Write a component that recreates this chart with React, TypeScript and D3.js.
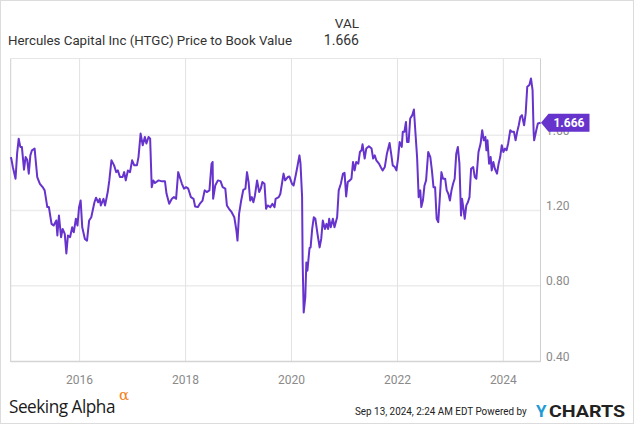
import React from "react";
import * as d3 from "d3";

// Decimal-year timestamps and Price-to-Book values
const times: number[] = [
  2014.70, 2014.71, 2014.74, 2014.79, 2014.82, 2014.85, 2014.88, 2014.91, 2014.95, 2014.98,
  2015.01, 2015.04, 2015.07, 2015.10, 2015.15, 2015.20, 2015.25, 2015.31, 2015.34, 2015.39,
  2015.42, 2015.47, 2015.51, 2015.56, 2015.58, 2015.61, 2015.65, 2015.68, 2015.72, 2015.75,
  2015.78, 2015.82, 2015.86, 2015.89, 2015.93, 2015.96, 2015.99, 2016.02, 2016.05, 2016.10,
  2016.14, 2016.18, 2016.22, 2016.28, 2016.31, 2016.35, 2016.38, 2016.40, 2016.45, 2016.48,
  2016.53, 2016.56, 2016.60, 2016.65, 2016.69, 2016.72, 2016.76, 2016.81, 2016.84, 2016.87,
  2016.91, 2016.95, 2016.99, 2017.03, 2017.08, 2017.11, 2017.15, 2017.19, 2017.23, 2017.26,
  2017.30, 2017.33, 2017.36, 2017.39, 2017.42, 2017.49, 2017.55, 2017.61, 2017.64, 2017.69,
  2017.74, 2017.78, 2017.82, 2017.86, 2017.90, 2017.93, 2017.97, 2018.01, 2018.05, 2018.10,
  2018.15, 2018.18, 2018.23, 2018.27, 2018.32, 2018.36, 2018.40, 2018.45, 2018.49, 2018.51,
  2018.52, 2018.56, 2018.61, 2018.66, 2018.70, 2018.75, 2018.78, 2018.82, 2018.87, 2018.92,
  2018.96, 2018.98, 2019.01, 2019.05, 2019.09, 2019.13, 2019.16, 2019.19, 2019.22, 2019.25,
  2019.28, 2019.31, 2019.35, 2019.39, 2019.42, 2019.45, 2019.49, 2019.52, 2019.55, 2019.60,
  2019.64, 2019.68, 2019.70, 2019.76, 2019.79, 2019.85, 2019.88, 2019.93, 2019.96, 2020.01,
  2020.04, 2020.08, 2020.11, 2020.15, 2020.17, 2020.20, 2020.21, 2020.23, 2020.26, 2020.28,
  2020.30, 2020.34, 2020.36, 2020.39, 2020.42, 2020.45, 2020.49, 2020.53, 2020.56, 2020.59,
  2020.63, 2020.66, 2020.69, 2020.71, 2020.74, 2020.78, 2020.81, 2020.86, 2020.89, 2020.93,
  2020.97, 2021.00, 2021.03, 2021.06, 2021.10, 2021.13, 2021.16, 2021.19, 2021.22, 2021.26,
  2021.29, 2021.32, 2021.34, 2021.38, 2021.41, 2021.46, 2021.51, 2021.54, 2021.57, 2021.60,
  2021.65, 2021.69, 2021.72, 2021.76, 2021.80, 2021.85, 2021.88, 2021.91, 2021.95, 2021.98,
  2022.01, 2022.04, 2022.08, 2022.10, 2022.13, 2022.16, 2022.18, 2022.21, 2022.24, 2022.28,
  2022.31, 2022.34, 2022.37, 2022.40, 2022.43, 2022.45, 2022.48, 2022.51, 2022.54, 2022.58,
  2022.62, 2022.65, 2022.68, 2022.71, 2022.74, 2022.77, 2022.80, 2022.83, 2022.86, 2022.90,
  2022.93, 2022.96, 2022.99, 2023.02, 2023.05, 2023.08, 2023.11, 2023.14, 2023.17, 2023.20,
  2023.22, 2023.25, 2023.27, 2023.30, 2023.33, 2023.36, 2023.39, 2023.43, 2023.46, 2023.49,
  2023.53, 2023.57, 2023.60, 2023.63, 2023.66, 2023.68, 2023.70, 2023.73, 2023.76, 2023.78,
  2023.81, 2023.84, 2023.88, 2023.91, 2023.94, 2023.97, 2024.00, 2024.03, 2024.06, 2024.09,
  2024.13, 2024.16, 2024.20, 2024.23, 2024.26, 2024.29, 2024.32, 2024.35, 2024.39, 2024.42,
  2024.45, 2024.49, 2024.52, 2024.55, 2024.57, 2024.58, 2024.62, 2024.65, 2024.70,
];

const values: number[] = [
  1.484, 1.476, 1.430, 1.369, 1.504, 1.582, 1.538, 1.538, 1.417, 1.484,
  1.470, 1.396, 1.493, 1.520, 1.529, 1.378, 1.342, 1.321, 1.307, 1.218,
  1.218, 1.129, 1.120, 1.147, 1.067, 1.173, 1.058, 1.102, 1.076, 0.972,
  1.067, 1.058, 1.111, 1.084, 1.156, 1.120, 1.218, 1.253, 1.111, 1.049,
  1.040, 1.147, 1.164, 1.244, 1.268, 1.244, 1.262, 1.227, 1.262, 1.227,
  1.298, 1.360, 1.467, 1.440, 1.404, 1.413, 1.378, 1.378, 1.404, 1.360,
  1.413, 1.404, 1.467, 1.440, 1.440, 1.484, 1.609, 1.547, 1.591, 1.556,
  1.591, 1.582, 1.324, 1.360, 1.346, 1.360, 1.355, 1.355, 1.289, 1.236,
  1.262, 1.271, 1.262, 1.404, 1.369, 1.342, 1.316, 1.324, 1.316, 1.271,
  1.262, 1.221, 1.218, 1.236, 1.253, 1.307, 1.298, 1.307, 1.449, 1.458,
  1.262, 1.333, 1.360, 1.356, 1.324, 1.316, 1.227, 1.209, 1.191, 1.164,
  1.093, 1.040, 1.182, 1.253, 1.310, 1.316, 1.404, 1.351, 1.253, 1.271,
  1.244, 1.280, 1.360, 1.298, 1.316, 1.351, 1.342, 1.209, 1.227, 1.218,
  1.236, 1.218, 1.262, 1.271, 1.289, 1.396, 1.360, 1.378, 1.381, 1.342,
  1.333, 1.387, 1.431, 1.493, 1.449, 1.271, 0.933, 0.658, 0.738, 0.924,
  0.880, 1.000, 1.004, 1.102, 1.164, 1.156, 1.076, 1.004, 1.049, 1.147,
  1.102, 1.129, 1.102, 1.156, 1.111, 1.156, 1.111, 1.164, 1.307, 1.342,
  1.396, 1.400, 1.275, 1.351, 1.360, 1.369, 1.458, 1.413, 1.458, 1.449,
  1.511, 1.520, 1.552, 1.476, 1.529, 1.541, 1.529, 1.476, 1.493, 1.467,
  1.449, 1.427, 1.413, 1.431, 1.502, 1.559, 1.502, 1.440, 1.431, 1.413,
  1.476, 1.564, 1.538, 1.618, 1.618, 1.671, 1.564, 1.564, 1.689, 1.707,
  1.737, 1.609, 1.484, 1.271, 1.307, 1.218, 1.253, 1.333, 1.360, 1.511,
  1.484, 1.413, 1.324, 1.324, 1.156, 1.138, 1.271, 1.404, 1.369, 1.369,
  1.307, 1.289, 1.253, 1.307, 1.342, 1.369, 1.502, 1.538, 1.449, 1.173,
  1.262, 1.200, 1.156, 1.227, 1.244, 1.271, 1.422, 1.431, 1.378, 1.369,
  1.511, 1.556, 1.627, 1.573, 1.591, 1.520, 1.573, 1.449, 1.484, 1.413,
  1.458, 1.422, 1.396, 1.449, 1.484, 1.547, 1.511, 1.529, 1.520, 1.556,
  1.627, 1.618, 1.618, 1.573, 1.618, 1.653, 1.698, 1.707, 1.653, 1.716,
  1.858, 1.867, 1.902, 1.840, 1.618, 1.573, 1.627, 1.662, 1.666,
];

const yTicks: number[] = [0.4, 0.8, 1.2, 1.6];
const yTickLabels: string[] = ["0.40", "0.80", "1.20", "1.60"];
const xTickYears: number[] = [2016, 2018, 2020, 2022, 2024];

const TITLE = "Hercules Capital Inc (HTGC) Price to Book Value";
const LAST_VALUE = "1.666";
const TIMESTAMP = "Sep 13, 2024, 2:24 AM EDT Powered by";

const W = 635;
const H = 424;
const LINE_COLOR = "#6633cc";
const FONT = "Roboto, 'Liberation Sans', Arial, sans-serif";

function yearToDate(t: number): Date {
  const y = Math.floor(t);
  const start = new Date(y, 0, 1).getTime();
  const end = new Date(y + 1, 0, 1).getTime();
  return new Date(start + (t - y) * (end - start));
}

export default function App() {
  const left = 10.7;
  const right = 540.5;
  const top = 60;
  const bottom = 361;

  const x = d3
    .scaleTime()
    .domain([new Date(2014, 8, 13), new Date(2024, 8, 13)])
    .range([left, right]);
  const y = d3.scaleLinear().domain([0.4, 2.0]).range([bottom, top]);

  const data = times.map((t, i) => ({ d: yearToDate(t), v: values[i] }));
  const line = d3
    .line<{ d: Date; v: number }>()
    .x((p) => x(p.d))
    .y((p) => y(p.v));

  const lastY = y(values[values.length - 1]);

  return (
    <svg
      width={W}
      height={H}
      style={{ position: "absolute", left: 0, top: 0, background: "#fff" }}
      fontFamily={FONT}
    >
      <rect x={0.5} y={0.5} width={W - 2} height={H - 1} fill="#fff" stroke="#dcdcdc" />

      {/* header */}
      <text x={359} y={28} textAnchor="end" fontSize={13.5} fill="#333">VAL</text>
      <text x={8} y={45} fontSize={13.5} fill="#333" textLength={284} lengthAdjust="spacingAndGlyphs">{TITLE}</text>
      <text x={359} y={45} textAnchor="end" fontSize={14} fill="#333">{LAST_VALUE}</text>

      {/* grid */}
      <line x1={left} x2={right} y1={y(2.0) - 1.5} y2={y(2.0) - 1.5} stroke="#e6e6e6" />
      {yTicks.slice(1).map((t) => (
        <line key={t} x1={left} x2={right} y1={y(t)} y2={y(t)} stroke="#ececec" strokeWidth={1.5} />
      ))}
      {xTickYears.map((yr) => (
        <line
          key={yr}
          x1={x(new Date(yr, 0, 1))}
          x2={x(new Date(yr, 0, 1))}
          y1={top - 1.5}
          y2={bottom}
          stroke="#e2e2e2"
        />
      ))}

      {/* axes frame */}
      <line x1={left} x2={left} y1={top - 1.5} y2={bottom + 1} stroke="#cfcfcf" />
      <line x1={right} x2={right} y1={top - 1.5} y2={bottom + 1} stroke="#cfcfcf" />
      <line x1={left} x2={right} y1={bottom + 0.5} y2={bottom + 0.5} stroke="#d4d4d4" strokeWidth={1.5} />

      {/* y labels */}
      {yTicks.map((t, i) => (
        <text key={t} x={546} y={y(t) - 0.5} fontSize={12} fill="#8a8a8a">
          {yTickLabels[i]}
        </text>
      ))}

      {/* x labels */}
      {xTickYears.map((yr) => (
        <text
          key={yr}
          x={x(new Date(yr, 0, 1))}
          y={384}
          textAnchor="middle"
          fontSize={12}
          fill="#8a8a8a"
        >
          {yr}
        </text>
      ))}

      {/* series */}
      <path d={line(data) || ""} fill="none" stroke={LINE_COLOR} strokeWidth={2} strokeLinejoin="round" />

      {/* last value badge */}
      <path
        d={`M${right + 0.5},${lastY} L${right + 8},${lastY - 9} L${right + 49},${lastY - 9} L${right + 49},${lastY + 9} L${right + 8},${lastY + 9} Z`}
        fill={LINE_COLOR}
      />
      <text x={right + 28.5} y={lastY + 4.3} textAnchor="middle" fontSize={12} fontWeight="bold" fill="#fff">
        {LAST_VALUE}
      </text>

      {/* footer */}
      <text x={9} y={412.5} fontSize={18} fill="#1a1a1a" textLength={106} lengthAdjust="spacingAndGlyphs" fontFamily="'Open Sans', sans-serif" letterSpacing={-0.5}>
        Seeking Alpha
      </text>
      <text x={119} y={399.5} fontSize={15} fill="#f58220" fontFamily="'DejaVu Serif', serif">α</text>
      <g transform="translate(355,414.5) scale(0.86,1)">
        <text x={0} y={0} fontSize={11.5} fill="#222">
          {TIMESTAMP}
        </text>
      </g>
      <text x={536} y={416.5} fontSize={17} fontWeight="bold" fill="#1e9bd7">Y</text>
      <g transform="translate(549,416.5) scale(1.19,1)">
        <text x={0} y={0} fontSize={16.5} fontWeight="bold" fill="#222">
          CHARTS
        </text>
      </g>
    </svg>
  );
}
